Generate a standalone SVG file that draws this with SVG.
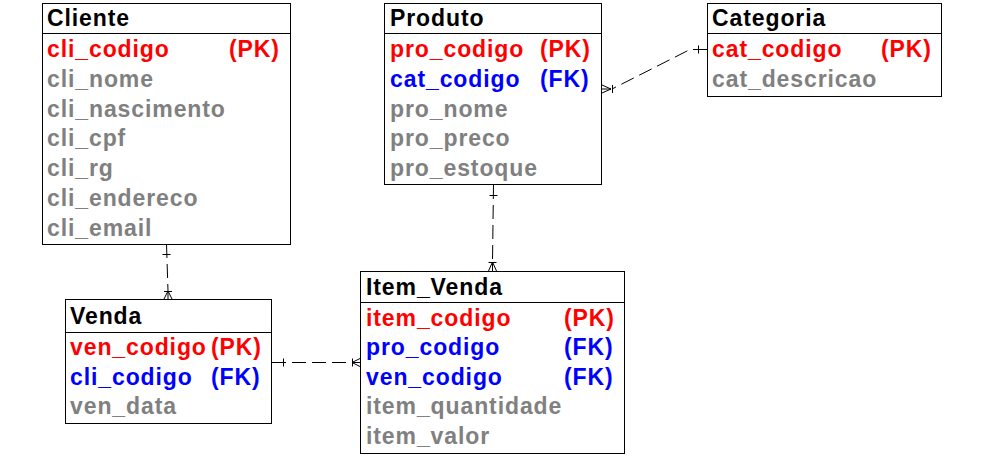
<svg xmlns="http://www.w3.org/2000/svg" width="984" height="464" viewBox="0 0 984 464">
<style>
text{font-family:"Liberation Sans",Arial,sans-serif;font-weight:bold;font-size:23px;letter-spacing:0.9px}
.h{fill:#000}
.pk{fill:#ff0000}
.fk{fill:#0000ff}
.a{fill:#808080}
.box{fill:#fff;stroke:#000;stroke-width:1}
.div{stroke:#000;stroke-width:1}
.c{fill:none;stroke:#000;stroke-width:1;stroke-dasharray:14 6}
.m{fill:none;stroke:#000;stroke-width:1}
</style>
<rect width="984" height="464" fill="#fff"/>
<g id="connectors">
  <path class="c" d="M166.5 244 L168 291"/>
  <path class="m" d="M162.5 254.5 H170.5"/>
  <path class="m" d="M164 291.5 H172 M168 291 L164 299 M168 291 L168 299 M168 291 L172 299"/>
  <path class="c" d="M272 362.5 L352 362.5"/>
  <path class="m" d="M283.5 358.5 V366.5"/>
  <path class="m" d="M352.5 358.5 V366.5 M352 362.5 L360 358.5 M352 362.5 L360 362.5 M352 362.5 L360 366.5"/>
  <path class="c" d="M493.5 185 L492.5 262"/>
  <path class="m" d="M489.5 195.5 H497.5"/>
  <path class="m" d="M488.5 262.5 H496.5 M492.5 262 L488.5 271 M492.5 262 L492.5 271 M492.5 262 L496.5 271"/>
  <path class="c" d="M707 49.5 L690 49.5 L612 89"/>
  <path class="m" d="M698.5 45.5 V53.5"/>
  <path class="m" d="M612.5 85 V93 M611 89 L602 85 M611 89 L602 89 M611 89 L602 93"/>
</g>
<g id="cliente">
  <rect class="box" x="42.5" y="3.5" width="248" height="241"/>
  <line class="div" x1="42" y1="33.5" x2="290" y2="33.5"/>
  <text class="h" x="47" y="26">Cliente</text>
  <text class="pk" x="47" y="57">cli_codigo</text>
  <text class="pk" x="229" y="57">(PK)</text>
  <text class="a" x="47" y="86.8">cli_nome</text>
  <text class="a" x="47" y="116.6">cli_nascimento</text>
  <text class="a" x="47" y="146.4">cli_cpf</text>
  <text class="a" x="47" y="176.2">cli_rg</text>
  <text class="a" x="47" y="206">cli_endereco</text>
  <text class="a" x="47" y="235.8">cli_email</text>
</g>
<g id="produto">
  <rect class="box" x="384.5" y="3.5" width="217" height="181"/>
  <line class="div" x1="384" y1="33.5" x2="601" y2="33.5"/>
  <text class="h" x="390" y="26">Produto</text>
  <text class="pk" x="390" y="57">pro_codigo</text>
  <text class="pk" x="540" y="57">(PK)</text>
  <text class="fk" x="390" y="86.8">cat_codigo</text>
  <text class="fk" x="540" y="86.8">(FK)</text>
  <text class="a" x="390" y="116.6">pro_nome</text>
  <text class="a" x="390" y="146.4">pro_preco</text>
  <text class="a" x="390" y="176.2">pro_estoque</text>
</g>
<g id="categoria">
  <rect class="box" x="707.5" y="3.5" width="234" height="93"/>
  <line class="div" x1="707" y1="33.5" x2="941" y2="33.5"/>
  <text class="h" x="712" y="26">Categoria</text>
  <text class="pk" x="712" y="57">cat_codigo</text>
  <text class="pk" x="881" y="57">(PK)</text>
  <text class="a" x="712" y="86.8">cat_descricao</text>
</g>
<g id="venda">
  <rect class="box" x="65.5" y="299.5" width="206" height="124"/>
  <line class="div" x1="65" y1="332.5" x2="271" y2="332.5"/>
  <text class="h" x="70" y="324">Venda</text>
  <text class="pk" x="70" y="355">ven_codigo</text>
  <text class="pk" x="211" y="355">(PK)</text>
  <text class="fk" x="70" y="384.5">cli_codigo</text>
  <text class="fk" x="211" y="384.5">(FK)</text>
  <text class="a" x="70" y="414">ven_data</text>
</g>
<g id="item_venda">
  <rect class="box" x="360.5" y="271.5" width="264" height="182"/>
  <line class="div" x1="360" y1="302.5" x2="624" y2="302.5"/>
  <text class="h" x="366" y="295">Item_Venda</text>
  <text class="pk" x="366" y="325.5">item_codigo</text>
  <text class="pk" x="564" y="325.5">(PK)</text>
  <text class="fk" x="366" y="355">pro_codigo</text>
  <text class="fk" x="564" y="355">(FK)</text>
  <text class="fk" x="366" y="384.5">ven_codigo</text>
  <text class="fk" x="564" y="384.5">(FK)</text>
  <text class="a" x="366" y="414">item_quantidade</text>
  <text class="a" x="366" y="443.5">item_valor</text>
</g>
</svg>
